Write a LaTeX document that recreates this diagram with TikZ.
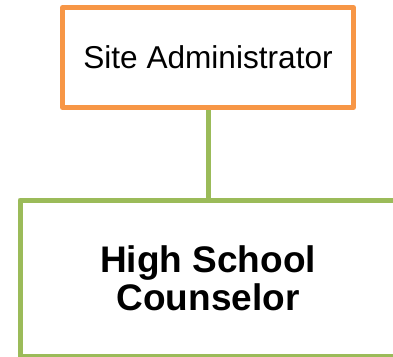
\documentclass[tikz,border=0pt]{standalone}
\usepackage{fontspec}
\setmainfont{Liberation Sans}
\definecolor{boxorange}{RGB}{247,150,70}
\definecolor{boxgreen}{RGB}{155,187,89}
\begin{document}
\begin{tikzpicture}[x=1pt,y=-1pt,
        orgbox/.style={draw,line width=5pt,line join=round,fill=white,align=center,inner sep=0pt}]
        \useasboundingbox (0,0) rectangle (393,356);

        \node[orgbox,draw=boxorange,minimum width=291pt,minimum height=100pt,
              font=\fontsize{31.6}{38}\selectfont] (admin) at (208,57.5) {Site Administrator};
        \node[orgbox,draw=boxgreen,minimum width=376pt,minimum height=156pt,
              font=\fontsize{37}{38.3}\selectfont\bfseries] (counselor) at (208,278) {High School\\Counselor};

        \draw[boxgreen,line width=5pt] (admin.south) -- (counselor.north);
    \end{tikzpicture}
\end{document}
